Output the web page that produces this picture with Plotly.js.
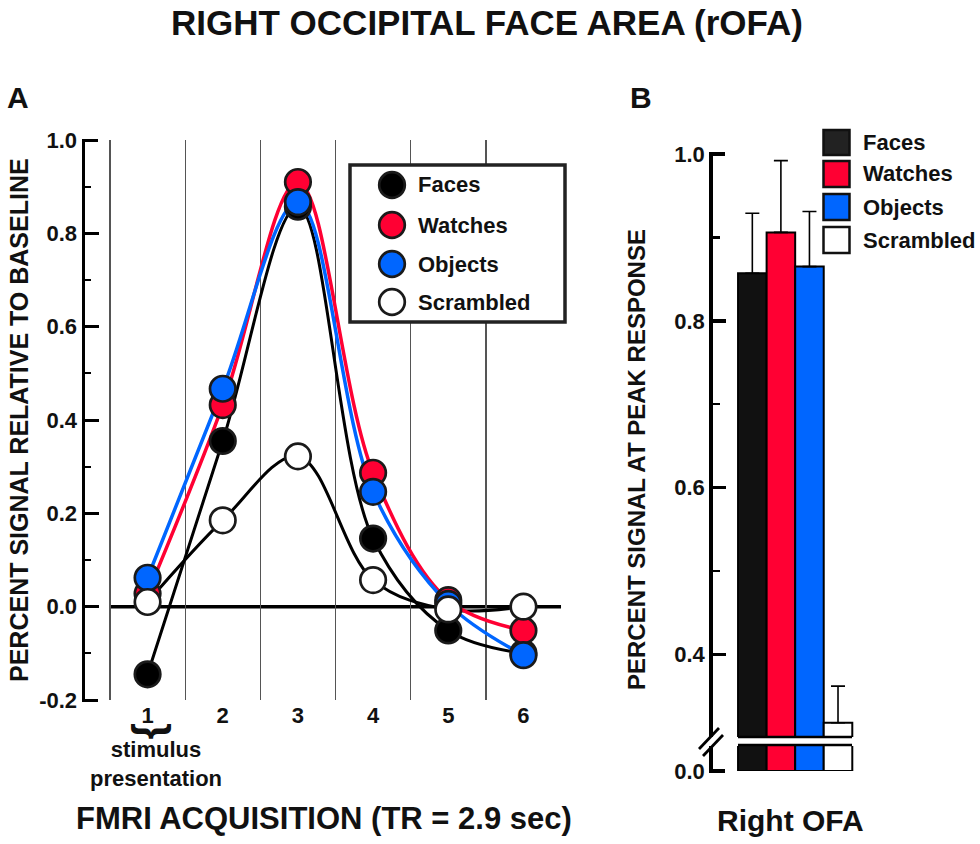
<!DOCTYPE html>
<html>
<head>
<meta charset="utf-8">
<script src="https://cdn.plot.ly/plotly-3.0.1.min.js"></script>
<style>
  html, body { margin: 0; padding: 0; background: #fff; }
  #wrap { position: relative; width: 980px; height: 844px; }
  #chart { width: 980px; height: 844px; }
  .axispiece { position: absolute; background: #000; z-index: 10; pointer-events: none; }
</style>
</head>
<body>
<div id="wrap"><div id="chart"></div></div>
<script>
// ---------------- DATA ----------------
const timepoints = [1, 2, 3, 4, 5, 6];
const timeTickLabels = ['1', '2', '3', '4', '5', '6'];
const faces     = [-0.145, 0.355, 0.857, 0.146, -0.051, -0.100];
const watches   = [0.028, 0.432, 0.910, 0.287, 0.014, -0.051];
const objects   = [0.062, 0.467, 0.867, 0.246, 0.006, -0.104];
const scrambled = [0.010, 0.185, 0.322, 0.057, -0.006, 0.000];

const leftTickVals = [-0.2, 0.0, 0.2, 0.4, 0.6, 0.8, 1.0];
const leftTickText = ['-0.2', '0.0', '0.2', '0.4', '0.6', '0.8', '1.0'];

const barCategories = ['Faces', 'Watches', 'Objects', 'Scrambled'];
const peakValues    = [0.857, 0.906, 0.865, 0.318];
const peakErrors    = [0.072, 0.086, 0.066, 0.044];
const rightTickVals = [0.4, 0.6, 0.8, 1.0];
const rightTickText = ['0.4', '0.6', '0.8', '1.0'];

const seriesNames = ['Faces', 'Watches', 'Objects', 'Scrambled'];

// ---------------- STYLE ----------------
const W = 980, H = 844;
const px = v => v / W;
const py = v => 1 - v / H;
const FONT = 'Liberation Sans, Arial, Helvetica, sans-serif';
const RED = '#ff0033', BLUE = '#0066ff', BLACK = '#000000', WHITE = '#ffffff';
const OUTLINE = '#1a1a1a';
const fillColors = [BLACK, RED, BLUE, WHITE];
const lineColors = [BLACK, RED, BLUE, BLACK];
const barFill = ['#111111', RED, BLUE, WHITE];
const seriesData = [faces, watches, objects, scrambled];

const traces = [];
[3, 0, 1, 2].forEach(i => {
  traces.push({
    type: 'scatter', mode: 'lines', x: timepoints, y: seriesData[i],
    xaxis: 'x', yaxis: 'y', name: seriesNames[i], showlegend: false,
    line: { color: lineColors[i], width: i === 0 || i === 3 ? 3 : 3.5, shape: 'spline', smoothing: 1 },
    hoverinfo: 'skip'
  });
});
[0, 1, 2, 3].forEach(i => {
  traces.push({
    type: 'scatter', mode: 'markers', x: timepoints, y: seriesData[i],
    xaxis: 'x', yaxis: 'y', name: seriesNames[i], showlegend: false,
    marker: { size: 25.5, color: fillColors[i], line: { color: OUTLINE, width: 2.7 } }
  });
});
traces.push({
  type: 'bar', x: barCategories, y: peakValues, xaxis: 'x2', yaxis: 'y2',
  width: 1, showlegend: false,
  marker: { color: barFill, line: { color: BLACK, width: 2 } },
  error_y: { type: 'data', symmetric: false, array: peakErrors, arrayminus: peakErrors.map(() => 0),
             color: BLACK, thickness: 1.6, width: 7 }
});
traces.push({
  type: 'bar', x: barCategories, y: peakValues, xaxis: 'x3', yaxis: 'y3',
  width: 1, showlegend: false,
  marker: { color: barFill, line: { color: BLACK, width: 2 } }
});

const tickFont = { family: FONT, size: 22, color: '#111', weight: 700 };

const yaxisA = {
  domain: [py(700), py(140)], range: [-0.2, 1.0], anchor: 'x',
  tickmode: 'array', tickvals: leftTickVals, ticktext: leftTickText,
  ticks: 'inside', ticklen: 14, tickwidth: 3, tickcolor: BLACK,
  showline: true, linecolor: BLACK, linewidth: 3,
  showgrid: false, zeroline: false, tickfont: tickFont,
  minor: { tick0: 0, dtick: 0.1, ticks: 'inside', ticklen: 6, tickwidth: 2, tickcolor: BLACK, showgrid: false }
};
const yaxisB = {
  domain: [py(737), py(154)], range: [0.301, 1.0], anchor: 'x2',
  tickmode: 'array', tickvals: rightTickVals, ticktext: rightTickText,
  ticks: 'inside', ticklen: 13, tickwidth: 3.5, tickcolor: BLACK,
  showline: true, linecolor: BLACK, linewidth: 3.5,
  showgrid: false, zeroline: false, tickfont: tickFont,
  minor: { tick0: 0.5, dtick: 0.2, ticks: 'inside', ticklen: 7, tickwidth: 2.5, tickcolor: BLACK, showgrid: false }
};
const yaxisBlow = {
  domain: [py(771), py(746)], range: [0, 0.05], anchor: 'x3',
  tickmode: 'array', tickvals: [0], ticktext: ['0.0'],
  ticks: 'inside', ticklen: 13, tickwidth: 3.5, tickcolor: BLACK,
  showline: true, linecolor: BLACK, linewidth: 3.5,
  showgrid: false, zeroline: false, tickfont: tickFont
};
// same linear mapping as each axis: value -> paper fraction -> pixel row
const toPaper = (ax, v) => ax.domain[0] + (v - ax.range[0]) / (ax.range[1] - ax.range[0]) * (ax.domain[1] - ax.domain[0]);
const toRow = (ax, v) => H * (1 - toPaper(ax, v));

const hline = (x0, x1, y, w) => ({ type: 'line', xref: 'paper', yref: 'paper',
  x0: px(x0), x1: px(x1), y0: y, y1: y, line: { color: BLACK, width: w }, layer: 'above' });

const shapes = [
  { type: 'line', xref: 'x', yref: 'y', x0: 0.5, x1: 6.5, y0: 0, y1: 0,
    line: { color: BLACK, width: 3.5 }, layer: 'below' },
  { type: 'rect', xref: 'paper', yref: 'paper', x0: px(350), x1: px(565), y0: py(165), y1: py(322),
    fillcolor: WHITE, line: { color: '#222', width: 3.5 }, layer: 'above' },
  hline(738, 852, py(737), 2.5),
  hline(738, 852, py(745), 2.5),
  { type: 'line', xref: 'paper', yref: 'paper', x0: px(699), x1: px(719), y0: py(749), y1: py(728),
    line: { color: BLACK, width: 2.8 }, layer: 'above' },
  { type: 'line', xref: 'paper', yref: 'paper', x0: px(703), x1: px(723), y0: py(756), y1: py(735),
    line: { color: BLACK, width: 2.8 }, layer: 'above' }
];

const legAy = [185, 225, 264, 302];
legAy.forEach((cy, i) => {
  const r = 12.8;
  shapes.push({ type: 'circle', xref: 'paper', yref: 'paper',
    x0: px(392 - r), x1: px(392 + r), y0: py(cy + r), y1: py(cy - r),
    fillcolor: fillColors[i], line: { color: OUTLINE, width: 2.7 }, layer: 'above' });
});
const legBy = [[130, 155], [161, 187], [194, 220], [227, 253]];
legBy.forEach((r, i) => {
  shapes.push({ type: 'rect', xref: 'paper', yref: 'paper',
    x0: px(823.5), x1: px(849.5), y0: py(r[1]), y1: py(r[0]),
    fillcolor: i === 0 ? '#222' : barFill[i], line: { color: '#111', width: 2.5 }, layer: 'above' });
});

const ann = (text, x, y, size, extra) => Object.assign({
  text: text, xref: 'paper', yref: 'paper', x: px(x), y: py(y), showarrow: false,
  xanchor: 'center', yanchor: 'middle',
  font: { family: FONT, size: size, color: '#111', weight: 700 }
}, extra || {});

const annotations = [
  ann('A', 18, 97, 30),
  ann('B', 641, 97, 30),
  ann('PERCENT SIGNAL RELATIVE TO BASELINE', 19, 420, 25, { textangle: -90 }),
  ann('FMRI ACQUISITION (TR = 2.9 sec)', 324, 818, 31),
  ann('}', 155, 731, 42, { textangle: 90 }),
  ann('stimulus<br>presentation', 156, 764, 22),
  ann('PERCENT SIGNAL AT PEAK RESPONSE', 637, 460, 24, { textangle: -90 }),
  ann('Right OFA', 790, 820, 30)
];
seriesNames.forEach((n, i) => {
  annotations.push(ann(n, 416, legAy[i], 22, { xanchor: 'left' }));
});
legBy.forEach((r, i) => {
  annotations.push(ann(barCategories[i], 861, (r[0] + r[1]) / 2, 22, { xanchor: 'left' }));
});

const layout = {
  width: W, height: H,
  margin: { l: 0, r: 0, t: 0, b: 0 },
  paper_bgcolor: WHITE, plot_bgcolor: WHITE,
  showlegend: false,
  hovermode: false,
  title: { text: 'RIGHT OCCIPITAL FACE AREA (rOFA)', x: px(487), y: py(23),
           xref: 'paper', yref: 'paper', xanchor: 'center', yanchor: 'middle',
           font: { family: FONT, size: 35, color: '#111', weight: 700 } },
  xaxis: {
    domain: [px(84.5), px(562)], range: [0.161, 6.513], anchor: 'y',
    tickmode: 'array', tickvals: timepoints, ticktext: timeTickLabels,
    ticks: '', showgrid: false, zeroline: false, showline: false,
    tickfont: tickFont,
    minor: { tick0: 0.5, dtick: 1, showgrid: true, gridcolor: '#555', gridwidth: 1.3, ticks: '' }
  },
  yaxis: yaxisA,
  xaxis2: {
    domain: [px(712.75), px(854)], range: [-1.386, 3.56], anchor: 'y2', type: 'category',
    visible: false, showgrid: false, zeroline: false
  },
  yaxis2: yaxisB,
  xaxis3: {
    domain: [px(712.75), px(854)], range: [-1.386, 3.56], anchor: 'y3', type: 'category',
    visible: false, showgrid: false, zeroline: false
  },
  yaxis3: yaxisBlow,
  bargap: 0,
  shapes: shapes,
  annotations: annotations
};

// axis spines and major ticks as thin overlays, placed with each axis' own mapping
const wrap = document.getElementById('wrap');
function piece(left, top, width, height) {
  const d = document.createElement('div');
  d.className = 'axispiece';
  d.style.left = left + 'px'; d.style.top = top + 'px';
  d.style.width = width + 'px'; d.style.height = height + 'px';
  wrap.appendChild(d);
}
function drawSpine(ax, xc, lw, vFrom, vTo, tickVals, tickLen) {
  const yTop = toRow(ax, vTo), yBot = toRow(ax, vFrom);
  piece(xc - lw / 2, yTop - (tickVals.indexOf(vTo) >= 0 ? lw / 2 : 0), lw,
        (yBot - yTop) + (tickVals.indexOf(vTo) >= 0 ? lw / 2 : 0) + (tickVals.indexOf(vFrom) >= 0 ? lw / 2 : 0));
  tickVals.forEach(v => piece(xc - lw / 2, toRow(ax, v) - lw / 2, tickLen + lw / 2, lw));
}

Plotly.newPlot('chart', traces, layout, { staticPlot: true, displayModeBar: false }).then(() => {
  drawSpine(yaxisA, 83, 3, -0.2, 1.0, leftTickVals, 15);
  drawSpine(yaxisB, 711, 3.5, 0.301, 1.0, rightTickVals, 14);
  drawSpine(yaxisBlow, 711, 3.5, 0, 0.05, [0], 14);
});
</script>
</body>
</html>
